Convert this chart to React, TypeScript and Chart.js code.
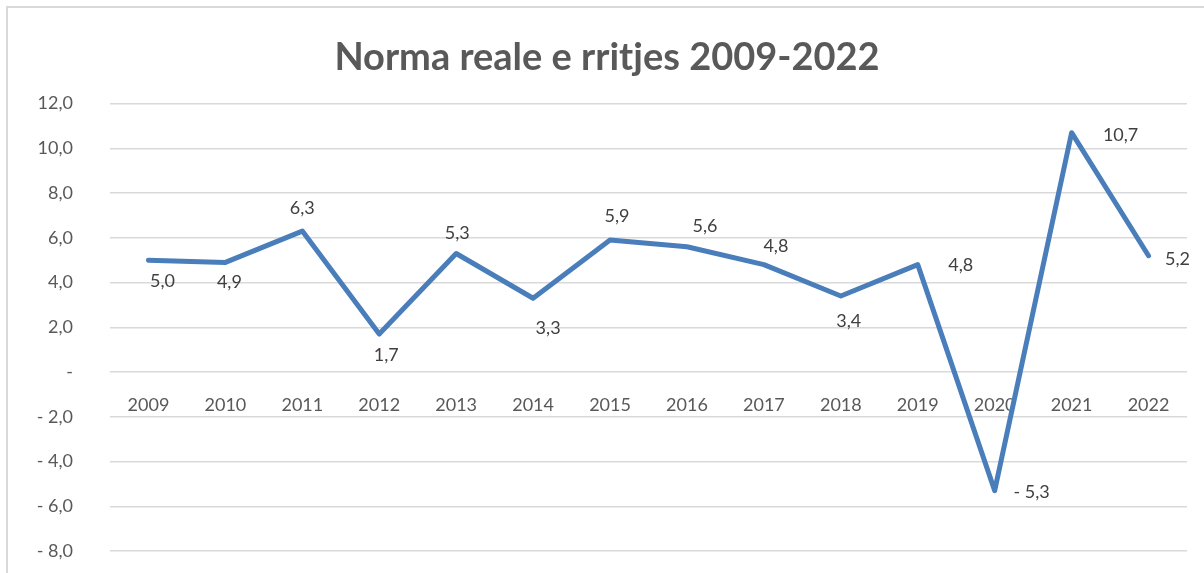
import React, { useEffect, useRef } from "react";
import { Chart, registerables } from "chart.js";

Chart.register(...registerables);

const categories = ["2009", "2010", "2011", "2012", "2013", "2014", "2015", "2016", "2017", "2018", "2019", "2020", "2021", "2022"];
const growth = [5.0, 4.9, 6.3, 1.7, 5.3, 3.3, 5.9, 5.6, 4.8, 3.4, 4.8, -5.3, 10.7, 5.2];
const yMin = -8;
const yMax = 12;
const yStep = 2;
const chartTitle = "Norma reale e rritjes 2009-2022";

// label placement offsets (style only)
const labelDx = [14, 4, 0, 7, 1, 15, 7, 18, 12, 8, 43, 37, 49, 29];
const labelDy = [21, 20, -23, 21, -20, 30, -24, -21, -18, 25, 1, 2, 3, 3];

const FONT = "Lato, 'Open Sans', sans-serif";

function fmt(v: number): string {
  if (Math.abs(v) < 1e-9) return "-";
  const s = Math.abs(v).toFixed(1).replace(".", ",");
  return v < 0 ? "- " + s : s;
}

const frame = {
  id: "frame",
  beforeDraw(chart: any) {
    const ctx = chart.ctx;
    ctx.save();
    ctx.fillStyle = "#ffffff";
    ctx.fillRect(0, 0, chart.width, chart.height);
    ctx.strokeStyle = "#d9d9d9";
    ctx.lineWidth = 2;
    ctx.strokeRect(7, 7, chart.width + 50, chart.height + 50);
    ctx.restore();
  },
};

const dataLabels = {
  id: "dataLabels",
  afterDatasetsDraw(chart: any) {
    const ctx = chart.ctx;
    const meta = chart.getDatasetMeta(0);
    const values = chart.data.datasets[0].data as number[];
    ctx.save();
    ctx.font = `18px ${FONT}`;
    ctx.fillStyle = "#404040";
    ctx.textAlign = "center";
    ctx.textBaseline = "middle";
    meta.data.forEach((pt: any, i: number) => {
      ctx.fillText(fmt(values[i]), pt.x + labelDx[i], pt.y + labelDy[i]);
    });
    ctx.restore();
  },
};

export default function App() {
  const ref = useRef<HTMLCanvasElement | null>(null);

  useEffect(() => {
    document.body.style.margin = "0";
    const canvas = ref.current;
    if (!canvas) return;
    const chart = new Chart(canvas, {
      type: "line",
      data: {
        labels: categories,
        datasets: [
          {
            data: growth,
            borderColor: "#4a7ebb",
            borderWidth: 5,
            pointRadius: 0,
            pointHoverRadius: 0,
            tension: 0,
            borderJoinStyle: "round",
            borderCapStyle: "round",
            fill: false,
          },
        ],
      },
      options: {
        animation: false,
        responsive: false,
        events: [],
        layout: { padding: { left: 10, right: 0, top: 0, bottom: 22 } },
        plugins: {
          legend: { display: false },
          tooltip: { enabled: false },
          title: {
            display: true,
            text: chartTitle,
            color: "#595959",
            font: { family: FONT, size: 38, weight: "bold" },
            padding: { top: 35, bottom: 23 },
          },
        },
        scales: {
          x: {
            type: "category",
            position: { y: 0 } as any,
            afterFit: (s: any) => {
              s.height = 0;
            },
            offset: true,
            grid: { display: false },
            border: { display: false },
            ticks: {
              color: "#595959",
              font: { family: FONT, size: 18 },
              padding: 14,
              maxRotation: 0,
              autoSkip: false,
            },
          },
          y: {
            min: yMin,
            max: yMax,
            afterFit: (s: any) => {
              s.width = 100;
            },
            grid: {
              color: "#d9d9d9",
              lineWidth: 1.5,
              drawTicks: true,
              tickLength: 37,
              tickColor: "rgba(0,0,0,0)",
            },
            border: { display: false },
            ticks: {
              stepSize: yStep,
              color: "#595959",
              font: { family: FONT, size: 18 },
              padding: 0,
              callback: (v: any) => fmt(Number(v)),
            },
          },
          yRight: {
            type: "linear",
            position: "right",
            display: true,
            afterFit: (s: any) => {
              s.width = 17;
            },
            grid: { display: false },
            border: { display: false },
            ticks: { display: false, padding: 0 },
          },
        },
      },
      plugins: [frame, dataLabels],
    });
    return () => chart.destroy();
  }, []);

  return (
    <div style={{ width: 1204, height: 573 }}>
      <canvas ref={ref} width={1204} height={573} style={{ display: "block" }} />
    </div>
  );
}
